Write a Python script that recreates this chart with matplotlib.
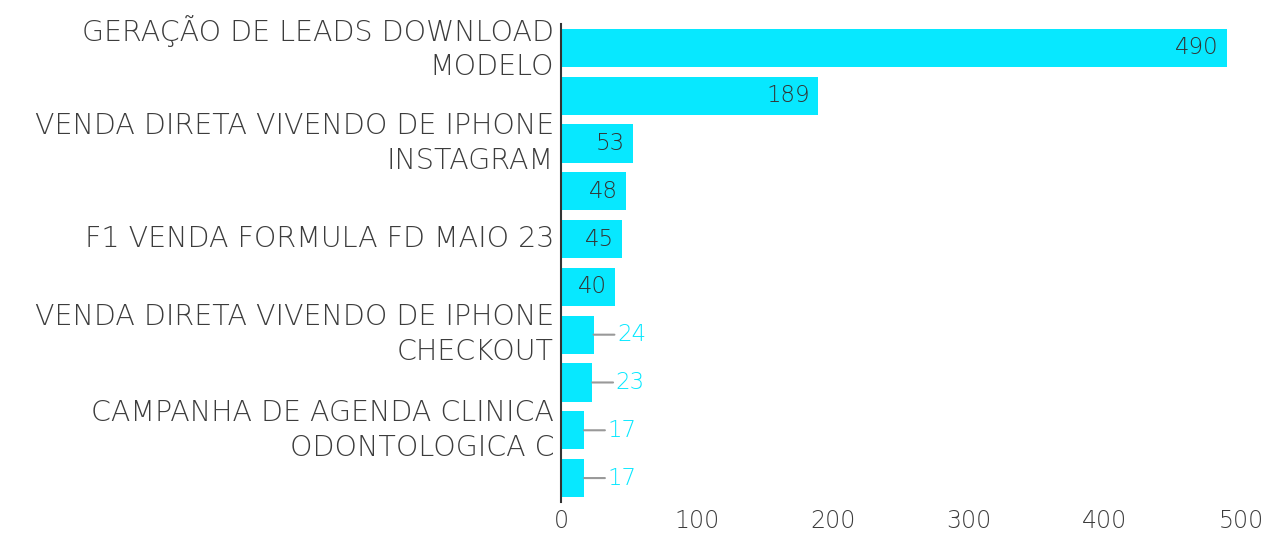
import matplotlib.pyplot as plt

labels = [
    "GERAÇÃO DE LEADS DOWNLOAD\nMODELO",
    "",
    "VENDA DIRETA VIVENDO DE IPHONE\nINSTAGRAM",
    "",
    "F1 VENDA FORMULA FD MAIO 23",
    "",
    "VENDA DIRETA VIVENDO DE IPHONE\nCHECKOUT",
    "",
    "CAMPANHA DE AGENDA CLINICA\nODONTOLOGICA C",
    "",
]
values = [490, 189, 53, 48, 45, 40, 24, 23, 17, 17]

BAR = "#07E8FF"
TEXT = "#3c3c3c"

plt.rcParams["font.family"] = ["DejaVu Sans"]


def main():
    fig = plt.figure(figsize=(12.72, 5.34), dpi=100)
    ax = fig.add_axes([0.441, 0.06, 0.5345, 0.895])

    y = list(range(len(values)))
    ax.barh(y, values, height=0.8, color=BAR)
    ax.set_ylim(len(values) - 0.5, -0.5)
    ax.set_xlim(0, 500)

    ax.set_yticks(y)
    ax.set_yticklabels(labels, fontsize=20.5, color=TEXT, linespacing=1.3,
                       fontweight="light", va="center")
    ax.set_xticks([0, 100, 200, 300, 400, 500])
    ax.tick_params(axis="x", length=0, labelsize=17, labelcolor=TEXT, pad=5)
    ax.tick_params(axis="y", length=0, pad=5)
    for t in ax.get_xticklabels():
        t.set_fontweight("light")

    for s in ["top", "right", "bottom"]:
        ax.spines[s].set_visible(False)
    ax.spines["left"].set_color("#333333")
    ax.spines["left"].set_linewidth(1.5)

    for i, v in enumerate(values):
        if v >= 35:
            ax.annotate(str(v), (v, i), xytext=(-6, 0), textcoords="offset points",
                        ha="right", va="center", fontsize=16.5, color="#333333",
                        fontweight="light")
        else:
            ax.annotate(str(v), (v, i), xytext=(17, 0), textcoords="offset points",
                        ha="left", va="center", fontsize=16.5, color=BAR,
                        fontweight="light",
                        arrowprops=dict(arrowstyle="-", color="#999999", lw=1.5,
                                        shrinkA=0, shrinkB=0))

    fig.savefig("out.png", dpi=100)
    plt.close(fig)


if __name__ == "__main__":
    main()
